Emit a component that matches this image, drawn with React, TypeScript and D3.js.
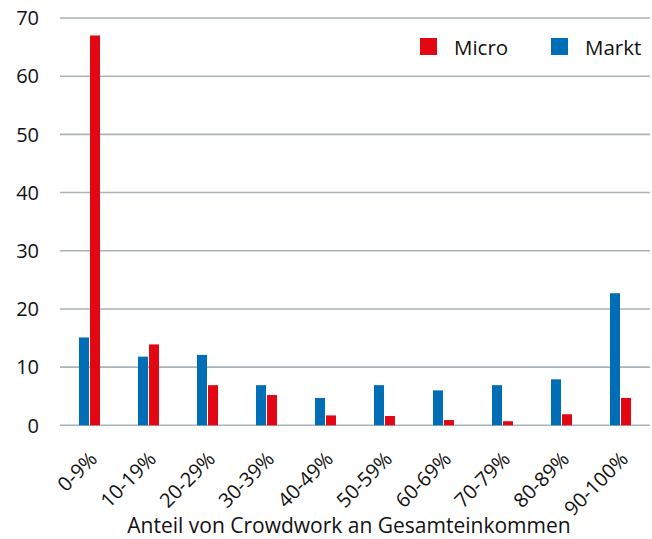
import React, { useEffect, useRef } from 'react'
import * as d3 from 'd3'

// Anteil von Crowdwork am Gesamteinkommen (%)
const categories = ['0-9%', '10-19%', '20-29%', '30-39%', '40-49%', '50-59%', '60-69%', '70-79%', '80-89%', '90-100%']
const marktValues = [15.1, 11.8, 12.1, 6.9, 4.7, 6.9, 6.0, 6.9, 7.9, 22.7]
const microValues = [67, 13.9, 6.9, 5.2, 1.7, 1.6, 0.9, 0.7, 1.9, 4.7]
const yTicks = [0, 10, 20, 30, 40, 50, 60, 70]

const RED = '#e30613'
const BLUE = '#006eb7'
const FONT = '"Open Sans", sans-serif'

export default function App() {
  const ref = useRef<SVGSVGElement>(null)

  useEffect(() => {
    const width = 652
    const height = 539
    const margin = { top: 18, right: 2, bottom: 114, left: 60 }

    const svg = d3.select(ref.current)
    svg.selectAll('*').remove()

    const x = d3.scaleBand()
      .domain(categories)
      .range([margin.left, width - margin.right])
      .paddingInner(0)
      .paddingOuter(0)

    const y = d3.scaleLinear()
      .domain([0, 70])
      .range([height - margin.bottom + 0.3, margin.top])

    // gridlines
    svg.append('g')
      .selectAll('line')
      .data(yTicks)
      .join('line')
      .attr('x1', margin.left)
      .attr('x2', width - margin.right)
      .attr('y1', d => y(d))
      .attr('y2', d => y(d))
      .attr('stroke', '#a9b3b9')
      .attr('stroke-width', 1.6)

    // y labels
    svg.append('g')
      .selectAll('text')
      .data(yTicks)
      .join('text')
      .attr('x', 39)
      .attr('y', d => y(d))
      .attr('dy', '0.36em')
      .attr('text-anchor', 'end')
      .attr('font-family', FONT)
      .attr('font-size', 20)
      .attr('fill', '#111')
      .text(d => d)

    const barW = 10
    const data = categories.map((c, i) => ({ c, markt: marktValues[i], micro: microValues[i] }))
    const center = (c: string) => (x(c) as number) + x.bandwidth() / 2

    const groups = svg.append('g')
      .selectAll('g')
      .data(data)
      .join('g')

    groups.append('rect')
      .attr('x', d => center(d.c) - barW - 0.5)
      .attr('width', barW)
      .attr('y', d => y(d.markt))
      .attr('height', d => y(0) - y(d.markt))
      .attr('fill', BLUE)

    groups.append('rect')
      .attr('x', d => center(d.c) + 0.5)
      .attr('width', barW)
      .attr('y', d => y(d.micro))
      .attr('height', d => y(0) - y(d.micro))
      .attr('fill', RED)

    // x labels, rotated
    svg.append('g')
      .selectAll('text')
      .data(categories)
      .join('text')
      .attr('transform', d => `translate(${center(d) + 9}, ${y(0) + 35}) rotate(-45)`)
      .attr('text-anchor', 'end')
      .attr('font-family', FONT)
      .attr('font-size', 20)
      .attr('fill', '#111')
      .text(d => d)

    // axis title
    svg.append('text')
      .attr('x', 349)
      .attr('y', 533)
      .attr('text-anchor', 'middle')
      .attr('font-family', FONT)
      .attr('font-size', 21)
      .attr('fill', '#111')
      .text('Anteil von Crowdwork an Gesamteinkommen')

    // legend
    const legend = [
      { name: 'Micro', color: RED, x: 420 },
      { name: 'Markt', color: BLUE, x: 551 },
    ]
    const lg = svg.append('g')
      .selectAll('g')
      .data(legend)
      .join('g')
      .attr('transform', d => `translate(${d.x}, 38)`)
    lg.append('rect')
      .attr('width', 17)
      .attr('height', 17)
      .attr('fill', d => d.color)
    lg.append('text')
      .attr('x', 34)
      .attr('y', 17)
      .attr('font-family', FONT)
      .attr('font-size', 20.5)
      .attr('fill', '#111')
      .text(d => d.name)
  }, [])

  return (
    <svg
      ref={ref}
      width={652}
      height={539}
      style={{ position: 'absolute', left: 0, top: 0, background: '#fff' }}
    />
  )
}
